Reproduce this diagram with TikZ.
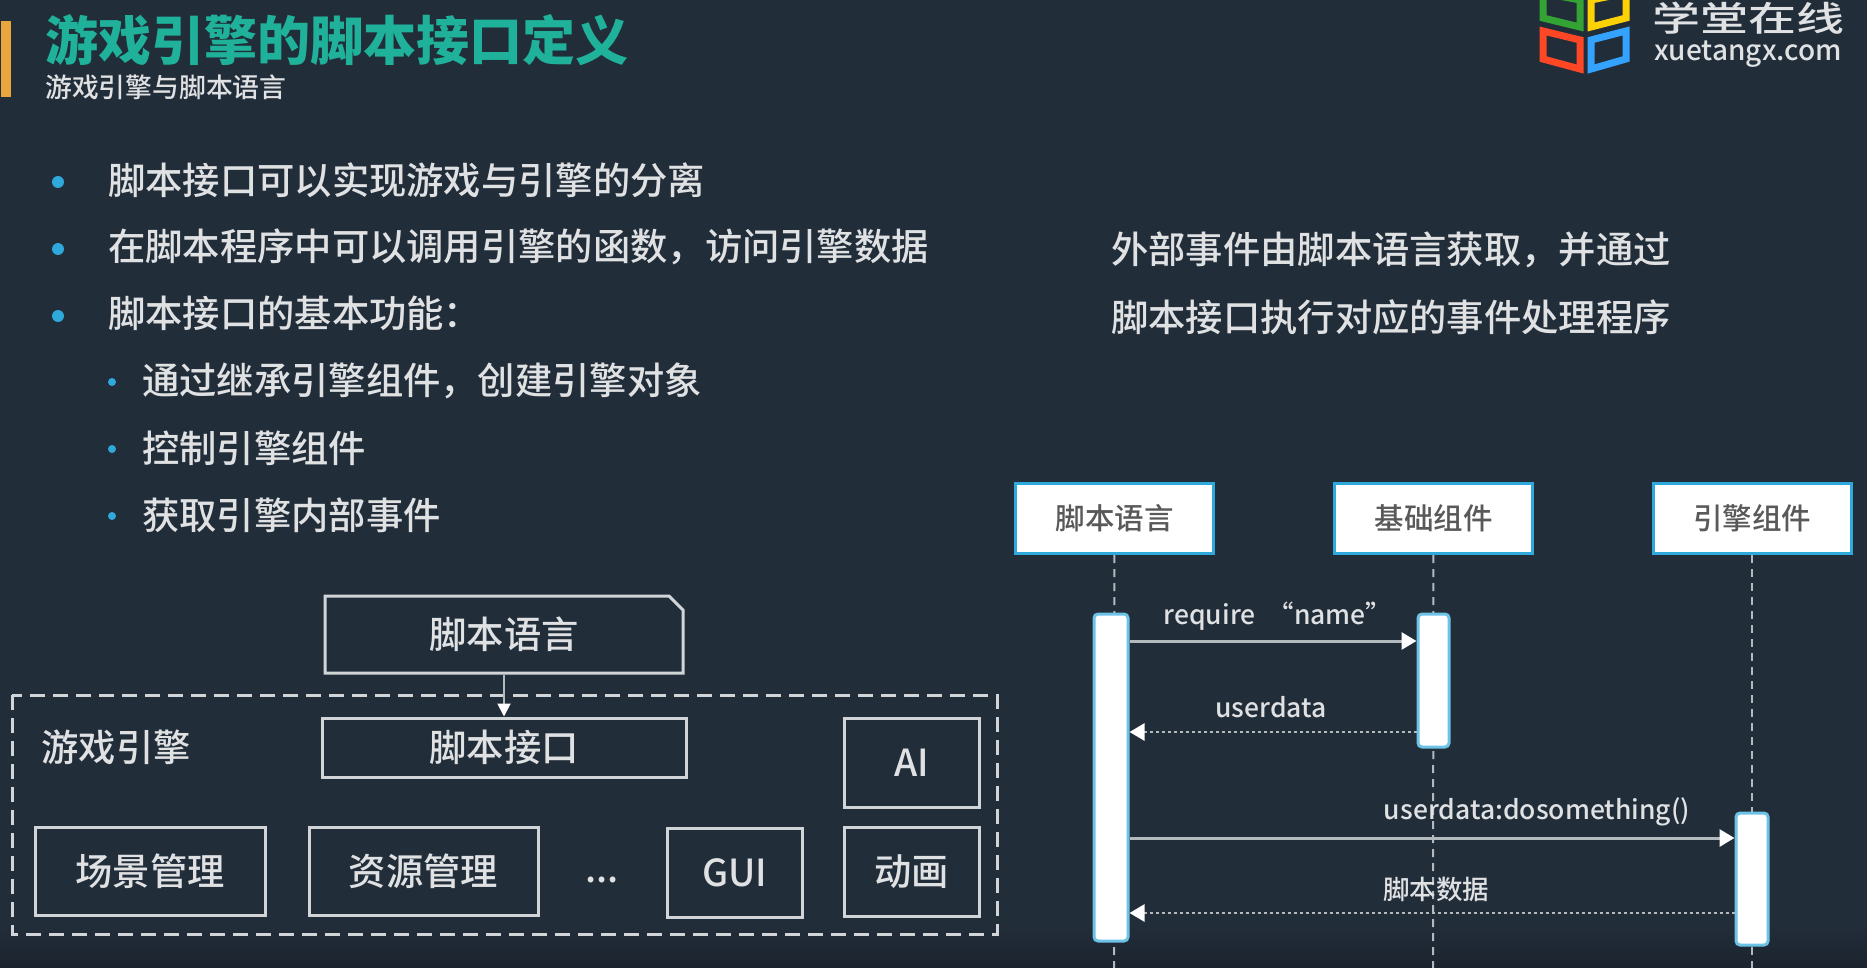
\documentclass[tikz,border=0pt]{standalone}
\usepackage{fontspec}
\setmainfont{Noto Sans CJK SC}
\newfontfamily\bodyfont{Noto Sans CJK SC Medium}
\usetikzlibrary{positioning, arrows.meta, shapes.misc}
\definecolor{slide}{HTML}{222D3A}
\definecolor{ink}{HTML}{DFE1E3}
\definecolor{rim}{HTML}{D2D5D8}
\definecolor{wire}{HTML}{B4B9BE}
\definecolor{sky}{HTML}{2FA9DC}
\definecolor{titlegreen}{HTML}{1FB199}
\definecolor{barorange}{HTML}{E9A63C}
\tikzset{
  >={Triangle[length=15pt, width=17pt, color=white]},
  txt/.style={text=ink, inner sep=0pt, font=\bodyfont\fontsize{37.3}{37.3}\selectfont},
  line/.style={txt, anchor=west},
  lbl/.style={txt, font=\bodyfont\fontsize{26.5}{26.5}\selectfont},
  box/.style={txt, draw=rim, line width=3pt},
  hdr/.style={draw=sky, fill=white, line width=3pt, text=black!65, inner sep=0pt,
    minimum width=198pt, minimum height=70pt, font=\bodyfont\fontsize{29.5}{29.5}\selectfont},
  bar/.style={draw=sky!70, fill=white, line width=3pt, rounded corners=4pt, inner sep=0pt},
  life/.style={draw=wire, line width=2pt, dash pattern=on 8pt off 6pt},
  call/.style={->, draw=wire, line width=3pt},
  back/.style={->, draw=wire, line width=2.6pt, dash pattern=on 3pt off 3pt},
  dot1/.style={circle, fill=sky, inner sep=0pt, minimum size=12pt},
  dot2/.style={circle, fill=sky, inner sep=0pt, minimum size=8pt},
  tile/.style={line width=7pt, line join=miter},
}

\begin{document}
\begin{tikzpicture}[x=1pt, y=-1pt]
  \fill[slide] (0,0) rectangle (1867,968);
  \shade[top color=slide, bottom color=slide!80!black] (0,925) rectangle (1867,968);
  \useasboundingbox (0,0) rectangle (1867,968);
  \clip (0,0) rectangle (1867,968);

  % heading
  \fill[barorange] (1,21) rectangle (11,97);
  \node[anchor=west, inner sep=0pt, text=titlegreen, font=\bfseries\fontsize{53}{53}\selectfont] (title) at (45,40) {游戏引擎的脚本接口定义};
  \node[txt, anchor=west, font=\bodyfont\fontsize{26.8}{26.8}\selectfont] (subtitle) at (45,87) {游戏引擎与脚本语言};

  % logo
  \draw[tile, draw=green!55!black!80!white] (1543,-7) -- (1580,0) -- (1580,27) -- (1543,18) -- cycle;
  \draw[tile, draw=yellow!70!orange] (1591,0) -- (1626,-7) -- (1626,18) -- (1591,27) -- cycle;
  \draw[tile, draw=red!70!orange!85!white] (1543,31) -- (1580,40) -- (1580,69) -- (1543,59) -- cycle;
  \draw[tile, draw=blue!45!cyan!80!white] (1591,40) -- (1626,31) -- (1626,59) -- (1591,69) -- cycle;
  \node[txt, anchor=west, text=ink, yscale=.72, transform shape, font=\bodyfont\fontsize{48}{48}\selectfont] (brand) at (1652,18) {学堂在线};
  \node[txt, anchor=west, text=ink, font=\bodyfont\fontsize{28}{28}\selectfont] (site) at (1654,54) {xuetangx.com};

  % bullets
  \node[dot1] (d1) at (58,182) {};
  \node[dot1] (d2) at (58,249) {};
  \node[dot1] (d3) at (58,316) {};
  \node[dot2] (d4) at (112,382) {};
  \node[dot2] (d5) at (112,449) {};
  \node[dot2] (d6) at (112,516) {};
  \node[line] (l1) at (108,180) {脚本接口可以实现游戏与引擎的分离};
  \node[line] (l2) at (108,247) {在脚本程序中可以调用引擎的函数，访问引擎数据};
  \node[line] (l3) at (108,313) {脚本接口的基本功能：};
  \node[line] (l4) at (142,381) {通过继承引擎组件，创建引擎对象};
  \node[line] (l5) at (142,448) {控制引擎组件};
  \node[line] (l6) at (142,515) {获取引擎内部事件};
  \node[line] (note1) at (1111,250) {外部事件由脚本语言获取，并通过};
  \node[line] (note2) at (1111,317) {脚本接口执行对应的事件处理程序};

  % engine blocks
  \draw[draw=rim, line width=3pt, dash pattern=on 15pt off 8pt] (12,695) rectangle (997,934);
  \node[box, chamfered rectangle, chamfered rectangle corners=north east,
    chamfered rectangle xsep=6pt, chamfered rectangle ysep=8pt,
    minimum width=358pt, minimum height=77pt] (lang) at (504,634.5) {脚本语言};
  \node[box, minimum width=364pt, minimum height=59pt] (api) at (504,747.5) {脚本接口};
  \node[txt] (engine) at (116,747) {游戏引擎};
  \node[box, minimum width=135pt, minimum height=89pt] (ai) at (911.5,762.5) {AI};
  \node[box, minimum width=230pt, minimum height=88pt] (scene) at (150,871) {场景管理};
  \node[box, minimum width=229pt, minimum height=88pt] (res) at (423.5,871) {资源管理};
  \node[txt] (more) at (602,880) {...};
  \node[box, minimum width=135pt, minimum height=89pt] (gui) at (734.5,872.5) {GUI};
  \node[box, minimum width=135pt, minimum height=89pt] (anim) at (911.5,871.5) {动画};
  \draw[-{Triangle[length=13pt, width=13pt, color=white]}, draw=wire, line width=2pt] (lang) -- (api);

  % sequence headers
  \node[hdr] (h1) at (1114.5,518.5) {脚本语言};
  \node[hdr] (h2) at (1433.5,518.5) {基础组件};
  \node[hdr] (h3) at (1752,518.5) {引擎组件};
  \coordinate (e1) at (1114,968);
  \coordinate (e2) at (1433,968);
  \coordinate (e3) at (1752,968);
  \draw[life] (h1) -- (e1);
  \draw[life] (h2) -- (e2);
  \draw[life] (h3) -- (e3);

  % activations
  \node[bar, minimum width=34pt, minimum height=327pt] (b1) at (1111,777.5) {};
  \node[bar, minimum width=31pt, minimum height=133pt] (b2) at (1433.5,680.5) {};
  \node[bar, minimum width=32pt, minimum height=132pt] (b3) at (1752,879) {};

  % messages
  \coordinate (m1) at (0,641);
  \coordinate (m2) at (0,732);
  \coordinate (m3) at (0,838);
  \coordinate (m4) at (0,913);
  \draw[call] (b1.east |- m1) -- (b2.west |- m1);
  \draw[back] (b2.west |- m2) -- (b1.east |- m2);
  \draw[call] (b1.east |- m3) -- (b3.west |- m3);
  \draw[back] (b3.west |- m4) -- (b1.east |- m4);
  \node[lbl] (t1) at (1278,616) {require\hspace{12pt}“name”};
  \node[lbl] (t2) at (1271,707) {userdata};
  \node[lbl] (t3) at (1537,812) {userdata:dosomething()};
  \node[lbl] (t4) at (1436,889) {脚本数据};
\end{tikzpicture}
\end{document}
